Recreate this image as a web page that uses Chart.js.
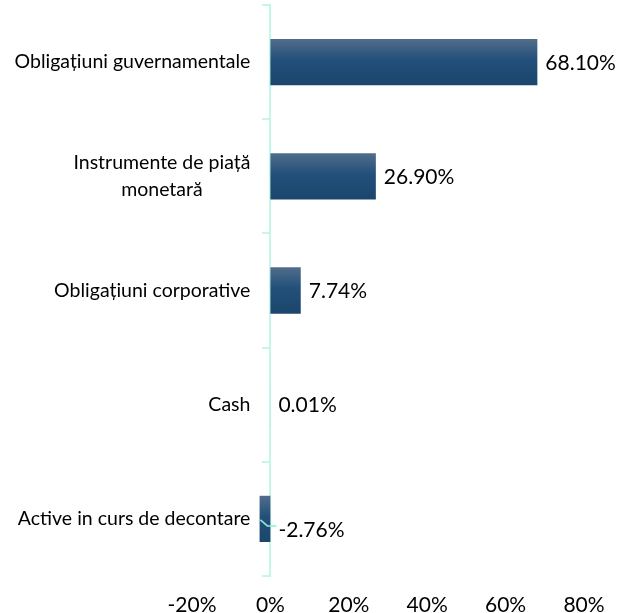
<!DOCTYPE html>
<html>
<head>
<meta charset="utf-8">
<script src="https://cdn.jsdelivr.net/npm/chart.js"></script>
<style>
  html, body { margin: 0; padding: 0; background: #fff; }
  canvas { display: block; }
</style>
</head>
<body>
<canvas id="alloc-chart" width="618" height="613"></canvas>
<script>
// Portfolio structure by asset class (% of net assets)
const categories = [
    "Obligațiuni guvernamentale",
    ["Instrumente de piață", "monetară"],
    "Obligațiuni corporative",
    "Cash",
    "Active in curs de decontare"
];
const shares = [68.10, 26.90, 7.74, 0.01, -2.76];
const xTicks = [-20, 0, 20, 40, 60, 80];

const axisColor = "#c3f7e9";
const labelFont = "Lato, 'Open Sans', sans-serif";

// category labels drawn by hand so wrapped ones stay centred
const catLabels = {
    id: "catLabels",
    afterDraw(chart) {
        const ctx = chart.ctx, y = chart.scales.y, x = chart.scales.x;
        const right = x.getPixelForValue(0) - 20;
        ctx.save();
        ctx.font = "19.5px " + labelFont;
        ctx.fillStyle = "#000";
        ctx.textBaseline = "middle";
        categories.forEach((lab, i) => {
            const cy = y.getPixelForValue(i);
            const lines = Array.isArray(lab) ? lab : [lab];
            const w = Math.max(...lines.map(l => ctx.measureText(l).width));
            const lh = 27;
            lines.forEach((l, j) => {
                const ly = cy + (j - (lines.length - 1) / 2) * lh;
                if (lines.length > 1) {
                    ctx.textAlign = "center";
                    ctx.fillText(l, right - w / 2, ly);
                } else {
                    ctx.textAlign = "right";
                    ctx.fillText(l, right, ly);
                }
            });
        });
        ctx.restore();
    }
};

// value labels at bar ends, negative one pulled out with a leader line
const valueLabels = {
    id: "valueLabels",
    afterDatasetsDraw(chart) {
        const ctx = chart.ctx, x = chart.scales.x;
        const meta = chart.getDatasetMeta(0);
        const zero = x.getPixelForValue(0);
        ctx.save();
        ctx.font = "21px " + labelFont;
        ctx.fillStyle = "#000";
        ctx.textAlign = "left";
        ctx.textBaseline = "middle";
        meta.data.forEach((bar, i) => {
            const v = shares[i];
            let tx = x.getPixelForValue(Math.max(v, 0)) + 8;
            let ty = bar.y + 1;
            if (v < 0) {
                ty = bar.y + 11;
                ctx.strokeStyle = "#8ceed5";
                ctx.lineWidth = 1.5;
                ctx.beginPath();
                ctx.moveTo(zero - 10, bar.y + 1);
                ctx.lineTo(zero - 3, bar.y + 7);
                ctx.lineTo(zero + 6, bar.y + 7);
                ctx.stroke();
            }
            ctx.fillText(v.toFixed(2) + "%", tx, ty);
        });
        ctx.restore();
    }
};

new Chart("alloc-chart", {
    type: "bar",
    data: {
        labels: categories,
        datasets: [{
            data: shares,
            backgroundColor: (c) => {
                const chart = c.chart;
                if (!chart.chartArea || !chart.scales.y) return "#234f75";
                const cy = chart.scales.y.getPixelForValue(c.dataIndex);
                const g = chart.ctx.createLinearGradient(0, cy - 23, 0, cy + 23);
                g.addColorStop(0, "#516d8b");
                g.addColorStop(0.45, "#22507a");
                g.addColorStop(1, "#1b456c");
                return g;
            },
            borderWidth: 0,
            categoryPercentage: 1,
            barPercentage: 0.405
        }]
    },
    options: {
        indexAxis: "y",
        responsive: false,
        animation: false,
        layout: { padding: { left: 192, right: 34, top: 5, bottom: -22 } },
        plugins: { legend: { display: false }, tooltip: { enabled: false } },
        scales: {
            x: {
                min: -20,
                max: 80,
                afterBuildTicks: (s) => { s.ticks = xTicks.map(v => ({ value: v })); },
                afterFit: (s) => { s.paddingLeft = 0; s.paddingRight = 0; },
                grid: { display: false, drawTicks: false },
                border: { display: false },
                ticks: {
                    padding: 19,
                    color: "#000",
                    font: { family: labelFont, size: 21, lineHeight: 1 },
                    callback: (v) => v + "%"
                }
            },
            y: {
                position: { x: 0 },
                grid: { drawOnChartArea: false, color: axisColor, lineWidth: 2, tickLength: 7 },
                border: { color: axisColor, width: 2 },
                ticks: { display: false }
            }
        }
    },
    plugins: [catLabels, valueLabels]
});
</script>
</body>
</html>
